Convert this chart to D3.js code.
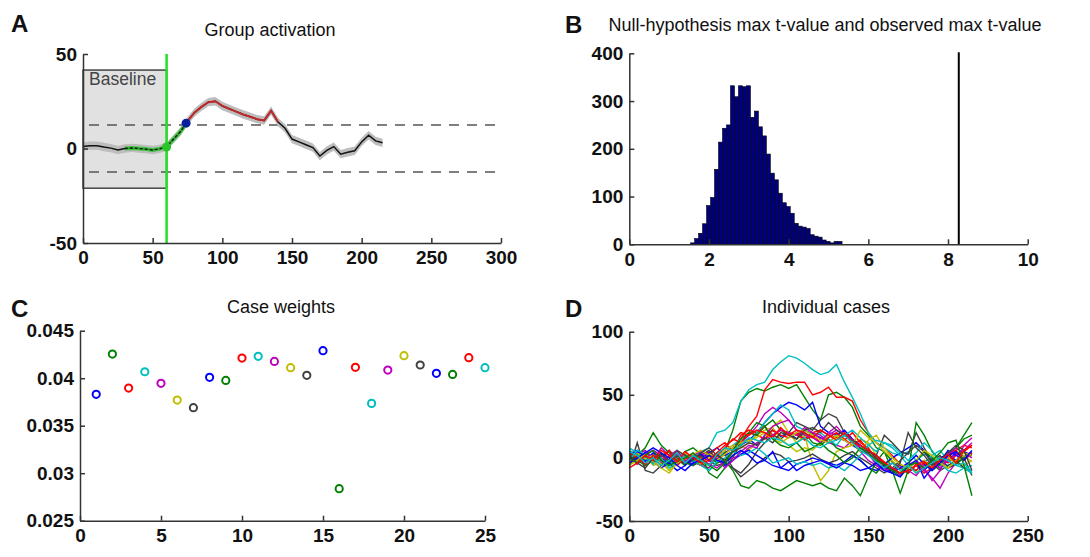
<!DOCTYPE html>
<html>
<head>
<meta charset="utf-8">
<script src="https://cdn.jsdelivr.net/npm/d3@7"></script>
<style>
  body { margin: 0; background: #fff; }
  svg { font-family: "Liberation Sans", Arial, sans-serif; }
  .tick text { font-size: 19px; font-weight: bold; fill: #111; }
  .domain, .tick line { stroke: #333; stroke-width: 1.5; }
  .title { font-size: 18px; fill: #111; text-anchor: middle; }
  .letter { font-size: 24px; font-weight: bold; fill: #111; }
</style>
</head>
<body>
<svg width="1090" height="557"></svg>
<script>
// ---- data ----
let timePts = [0,5,10,15,20,25,30,35,40,45,50,55,60,65,70,75,80,85,90,95,100,105,110,115,120,125,130,135,140,145,150,155,160,165,170,175,180,185,190,195,200,205,210,215]

// A: group activation
let groupVals = [1,1.5,1.5,0.8,0.2,-0.8,0,0.3,0,-0.3,-0.8,-0.2,1,5,9,14.5,19,22,24.5,25,22.5,21,19.5,18,16.8,15.5,14.8,20,14,10.7,5,3.5,2,0.5,-4,-1,1,-3,-2,-1.2,3.5,7,4,3]
let groupSpread = 2.2
let baselineEnd = 60
let baselineBox = [-21, 41.5]
let threshold = 12.4
let greenSpan = [30, 73]
let redSpan = [75, 140]
let dotTimes = [60, 74]
let dotVals = [0.8, 13.4]

// B: null distribution histogram
let binLefts = [1.54,1.64,1.74,1.84,1.94,2.04,2.14,2.24,2.34,2.44,2.54,2.64,2.74,2.84,2.94,3.04,3.14,3.24,3.34,3.44,3.54,3.64,3.74,3.84,3.94,4.04,4.14,4.24,4.34,4.44,4.54,4.64,4.74,4.84,4.94,5.04,5.14,5.24]
let binCounts = [3,12,23,43,81,98,157,214,243,250,332,309,332,330,332,266,279,246,227,189,149,135,107,87,79,65,44,38,36,33,20,17,15,9,6,3,6,6]
let binWidth = 0.1
let observedMax = 8.27

// C: case weights
let caseIds = [1,2,3,4,5,6,7,8,9,10,11,12,13,14,15,16,17,18,19,20,21,22,23,24,25]
let caseWeights = [0.0383,0.04254,0.03896,0.04068,0.03946,0.0377,0.0369,0.04009,0.03977,0.04212,0.0423,0.04177,0.04111,0.0403,0.0429,0.02837,0.04114,0.03735,0.04086,0.04237,0.04139,0.04051,0.0404,0.04216,0.04111]

// D: individual cases
let case1 = [5,2,-3,0,-6,-4,2,-2,-5,1,3,-2,4,8,12,15,10,18,22,17,20,15,22,19,16,12,18,14,10,6,3,-4,-8,-10,-6,-12,-5,-10,-3,-8,-2,4,1,5]
let case2 = [-3,0,4,-2,3,-5,-1,-6,2,-3,-10,-4,5,22,45,52,55,53,56,58,55,58,48,38,30,50,52,48,40,25,18,8,5,-3,-8,-12,-6,-2,-10,-5,4,8,18,28]
let case3 = [2,-4,-1,3,-2,1,-6,0,-3,2,5,-2,3,8,15,25,33,54,62,60,59,60,60,50,52,56,48,48,45,30,20,12,8,2,-5,-10,-6,-12,-8,-4,0,6,10,8]
let case4 = [6,2,-2,4,-3,-1,3,-4,0,5,8,20,22,28,45,54,58,60,70,76,81,79,75,70,66,68,74,60,48,35,20,12,8,4,2,5,-2,3,0,-4,-6,-3,-8,-10]
let case5 = [-4,3,6,-2,8,2,-5,3,-3,-6,-8,2,-4,5,12,18,25,35,40,36,30,22,15,20,18,12,10,8,14,5,-2,-6,-10,-4,-8,-12,-5,-10,-16,-24,-12,-4,10,16]
let case6 = [0,-3,2,-6,-4,-10,-3,2,-2,-5,0,-4,-1,2,10,6,12,15,25,30,20,12,18,-5,-18,-10,5,8,10,15,12,2,-4,-2,-8,-5,-12,-6,-3,0,2,-4,-6,-2]
let case7 = [-8,12,-10,-12,-6,2,-2,-4,0,3,-2,-6,-4,-8,-12,-5,5,12,18,15,20,28,25,22,30,35,32,20,15,10,5,2,18,12,5,3,20,8,-2,2,-8,-5,0,-14]
let case8 = [3,6,-2,4,0,-5,2,-3,-6,-2,4,8,2,5,10,14,20,28,35,40,44,42,38,44,25,20,18,22,15,10,6,2,-5,0,4,8,12,6,-4,0,3,-2,5,2]
let case9 = [-6,2,8,20,10,4,-2,5,8,3,-12,-16,-8,0,12,20,28,25,30,22,18,15,20,12,10,15,8,5,2,-2,-8,-12,-4,-10,-15,-8,-3,5,0,-6,2,8,15,18]
let case10 = [-2,5,1,-4,3,-2,4,0,-3,-6,2,8,12,5,18,22,20,25,18,22,20,18,15,20,22,18,16,14,20,12,8,-2,-6,-10,-8,-12,-5,-2,-6,0,-4,2,5,10]
let case11 = [8,4,0,-4,-2,-6,2,4,-3,0,-5,-2,6,10,15,12,20,28,35,42,38,25,22,18,20,15,10,18,22,16,10,5,12,8,2,-6,-10,-4,2,6,-2,-6,-8,-6]
let case12 = [2,-2,5,0,-4,2,6,-3,3,-2,-5,-8,-3,0,2,8,12,15,18,22,20,18,24,20,15,18,22,18,12,8,3,-4,-8,-12,-5,-10,-14,-6,-3,-8,-2,3,6,12]
let case13 = [-3,4,-1,2,-5,-8,-2,4,0,-4,3,1,6,10,8,12,18,22,24,15,10,5,8,6,12,18,15,20,12,5,14,18,8,0,-5,-10,-6,-2,-8,-3,0,-4,2,-3]
let case14 = [4,-2,2,-4,1,6,0,-5,-2,2,6,-1,3,-8,-15,-10,-5,0,4,2,-3,-2,0,3,-1,-4,-2,2,5,0,-4,-8,-12,-8,-2,4,10,5,-4,-10,-6,-2,-8,-12]
let case15 = [0,5,2,-3,-8,-4,-10,-6,0,3,-2,4,-6,-2,3,6,2,-2,5,-8,-10,-5,-3,0,-2,-4,-6,-3,2,-2,-8,-10,-6,-12,-8,-4,2,-5,-10,-3,6,2,-1,3]
let case16 = [3,-2,-6,-2,4,-3,2,-4,-6,-2,2,-4,-2,-10,-22,-24,-18,-20,-24,-26,-22,-18,-20,-22,-20,-24,-26,-16,-22,-30,-15,-3,5,-10,-28,-10,28,18,5,-2,3,-4,0,2]
let case17 = [4,0,-5,2,-2,6,-4,-1,3,0,-6,2,8,15,12,20,18,15,22,18,16,20,14,18,12,16,20,15,10,14,6,0,-4,-8,-12,-6,-10,-4,-8,-2,3,6,-2,4]
let case18 = [-2,6,3,-5,0,-8,-4,2,-2,-6,-10,-3,0,5,2,4,8,3,-4,-2,0,-5,-3,-6,-4,-8,-6,-10,-4,2,10,14,12,10,4,-2,4,12,6,-4,-10,-12,-8,-12]
let case19 = [0,-5,3,6,2,-2,3,-4,2,5,-3,0,-8,-2,5,10,8,18,25,28,30,22,18,16,12,20,25,18,15,8,4,-6,-10,-8,-14,-6,-2,-8,-18,-10,2,8,4,0]
let case20 = [-6,-2,3,-3,-8,-12,-4,0,3,6,2,-2,3,8,12,14,16,20,15,12,16,20,22,18,14,12,18,14,10,22,16,12,5,0,-5,-8,-2,6,2,-4,-8,-2,4,2]
let case21 = [2,-4,-8,0,3,-2,6,2,-2,4,8,2,-2,5,8,12,10,16,12,20,18,15,22,24,20,28,22,18,14,10,6,0,-6,-10,-4,20,8,2,-6,-2,4,10,6,-10]
let case22 = [-4,0,4,8,4,0,-6,-10,-4,-2,2,-2,-4,2,6,2,-4,-2,-6,-8,-3,-10,-6,-4,-2,-5,-8,-4,-6,-10,-8,-4,-10,-12,-15,-6,-2,-16,-8,-4,2,5,-2,6]
let case23 = [0,-4,2,6,-2,-6,-3,0,4,-2,-6,-10,-4,6,15,20,18,25,15,10,8,12,5,8,12,6,2,-4,0,8,4,-2,-5,-10,-12,-6,-4,-8,-2,4,12,14,-6,-30]
let case24 = [-8,-4,2,-2,6,2,-3,5,0,-4,-2,4,10,14,20,18,22,20,16,24,18,22,20,16,22,18,14,20,12,10,6,2,-3,-8,-12,-10,-6,-3,-8,-2,3,-4,6,10]
let case25 = [5,2,-4,0,-6,-2,4,-4,2,-2,-6,3,8,6,10,16,14,12,16,14,10,12,16,10,8,12,14,18,12,6,2,-3,-8,-4,-10,-6,-12,-8,-4,0,-2,-6,-4,-12]

let allCases = [case1,case2,case3,case4,case5,case6,case7,case8,case9,case10,case11,case12,case13,
  case14,case15,case16,case17,case18,case19,case20,case21,case22,case23,case24,case25]

// matlab's old default line colour order
let colorOrder = ["#0000ff", "#008000", "#ff0000", "#00bfbf", "#bf00bf", "#bfbf00", "#404040"]

let svg = d3.select("svg")

// draws left + bottom axes, matlab style ticks pointing inward
function makeAxes(x, y, xTicks, yTicks, yFmt) {
  let g = svg.append("g")
  g.append("g")
    .attr("transform", "translate(0," + y.range()[0] + ")")
    .call(d3.axisBottom(x).tickValues(xTicks).tickSizeInner(-5).tickSizeOuter(0).tickPadding(8)
      .tickFormat((d) => { return String(d) }))
  g.append("g")
    .attr("transform", "translate(" + x.range()[0] + ",0)")
    .call(d3.axisLeft(y).tickValues(yTicks).tickSizeInner(-5).tickSizeOuter(0).tickPadding(6)
      .tickFormat(yFmt || ((d) => { return String(d) })))
  return g
}

// ---------- Panel A ----------
let xA = d3.scaleLinear().domain([0, 300]).range([83, 501])
let yA = d3.scaleLinear().domain([-50, 50]).range([243, 54])
let groupData = timePts.map((t, i) => { return {t: t, v: groupVals[i]} })

svg.append("rect")
  .attr("x", xA(0))
  .attr("y", yA(baselineBox[1]))
  .attr("width", xA(baselineEnd) - xA(0))
  .attr("height", yA(baselineBox[0]) - yA(baselineBox[1]))
  .attr("fill", "#e1e1e1")
  .attr("stroke", "#444")
  .attr("stroke-width", 1.5)

svg.append("text")
  .attr("x", 89)
  .attr("y", 85)
  .attr("font-size", "17.5px")
  .attr("fill", "#444")
  .text("Baseline")

;[threshold, -threshold].forEach((v) => {
  svg.append("line")
    .attr("x1", xA(0) + 6).attr("x2", xA(300))
    .attr("y1", yA(v)).attr("y2", yA(v))
    .attr("stroke", "#555")
    .attr("stroke-width", 1.5)
    .attr("stroke-dasharray", "10,8")
})

svg.append("path")
  .datum(groupData)
  .attr("fill", "#bdbdbd")
  .attr("d", d3.area()
    .x((d) => { return xA(d.t) })
    .y0((d) => { return yA(d.v - groupSpread) })
    .y1((d) => { return yA(d.v + groupSpread) }))

let lineA = d3.line()
  .x((d) => { return xA(d.t) })
  .y((d) => { return yA(d.v) })

svg.append("path")
  .datum(groupData)
  .attr("fill", "none")
  .attr("stroke", "#111")
  .attr("stroke-width", 1.5)
  .attr("d", lineA)

let greenPart = groupData.filter((d) => { return d.t >= greenSpan[0] && d.t <= greenSpan[1] + 2 })
svg.append("path")
  .datum(greenPart)
  .attr("fill", "none")
  .attr("stroke", "#2cc42c")
  .attr("stroke-width", 4)
  .attr("opacity", 0.85)
  .attr("d", lineA)
svg.append("path")
  .datum(greenPart)
  .attr("fill", "none")
  .attr("stroke", "#111")
  .attr("stroke-width", 1.3)
  .attr("stroke-dasharray", "3,2")
  .attr("d", lineA)

svg.append("path")
  .datum(groupData.filter((d) => { return d.t >= redSpan[0] && d.t <= redSpan[1] }))
  .attr("fill", "none")
  .attr("stroke", "#c0282a")
  .attr("stroke-width", 2)
  .attr("d", lineA)

svg.append("line")
  .attr("x1", xA(baselineEnd)).attr("x2", xA(baselineEnd))
  .attr("y1", yA(50)).attr("y2", yA(-50))
  .attr("stroke", "#22e022")
  .attr("stroke-width", 2.5)

svg.selectAll(".dotA")
  .data(dotTimes)
  .enter()
  .append("circle")
  .attr("cx", (d) => { return xA(d) })
  .attr("cy", (d, i) => { return yA(dotVals[i]) })
  .attr("r", 4.5)
  .attr("fill", (d, i) => { return i == 0 ? "#2cc42c" : "#0a1fa0" })

makeAxes(xA, yA, [0, 50, 100, 150, 200, 250, 300], [-50, 0, 50])

svg.append("text").attr("class", "letter").attr("x", 11).attr("y", 32).text("A")
svg.append("text").attr("class", "title").attr("x", 270).attr("y", 36).text("Group activation")

// ---------- Panel B ----------
let xB = d3.scaleLinear().domain([0, 10]).range([629.3, 1027.7])
let yB = d3.scaleLinear().domain([0, 400]).range([244.3, 53.3])

svg.selectAll(".bar")
  .data(binCounts)
  .enter()
  .append("rect")
  .attr("x", (d, i) => { return xB(binLefts[i]) })
  .attr("y", (d) => { return yB(d) })
  .attr("width", xB(binWidth) - xB(0))
  .attr("height", (d) => { return yB(0) - yB(d) })
  .attr("fill", "#00007f")
  .attr("stroke", "#000")
  .attr("stroke-width", 0.6)

svg.append("line")
  .attr("x1", xB(observedMax)).attr("x2", xB(observedMax))
  .attr("y1", yB(0)).attr("y2", yB(400) - 1)
  .attr("stroke", "#000")
  .attr("stroke-width", 2)

makeAxes(xB, yB, [0, 2, 4, 6, 8, 10], [0, 100, 200, 300, 400])

svg.append("text").attr("class", "letter").attr("x", 565).attr("y", 33).text("B")
svg.append("text").attr("class", "title").attr("x", 825).attr("y", 31)
  .text("Null-hypothesis max t-value and observed max t-value")

// ---------- Panel C ----------
let xC = d3.scaleLinear().domain([0, 25]).range([80, 485])
let yC = d3.scaleLinear().domain([0.025, 0.045]).range([520.7, 330.7])

svg.selectAll(".pt")
  .data(caseWeights)
  .enter()
  .append("circle")
  .attr("cx", (d, i) => { return xC(caseIds[i]) })
  .attr("cy", (d) => { return yC(d) })
  .attr("r", 3.6)
  .attr("fill", "none")
  .attr("stroke", (d, i) => { return colorOrder[i % 7] })
  .attr("stroke-width", 2)

makeAxes(xC, yC, [0, 5, 10, 15, 20, 25], [0.025, 0.03, 0.035, 0.04, 0.045],
  (d) => { return String(+d.toFixed(3)) })

svg.append("text").attr("class", "letter").attr("x", 11).attr("y", 317).text("C")
svg.append("text").attr("class", "title").attr("x", 281).attr("y", 313).text("Case weights")

// ---------- Panel D ----------
let xD = d3.scaleLinear().domain([0, 250]).range([629.3, 1027.7])
let yD = d3.scaleLinear().domain([-50, 100]).range([521, 331.7])

let lineD = d3.line()
  .x((d, i) => { return xD(timePts[i]) })
  .y((d) => { return yD(d) })

svg.selectAll(".trace")
  .data(allCases)
  .enter()
  .append("path")
  .attr("fill", "none")
  .attr("stroke", (d, i) => { return colorOrder[i % 7] })
  .attr("stroke-width", 1.4)
  .attr("d", lineD)

makeAxes(xD, yD, [0, 50, 100, 150, 200, 250], [-50, 0, 50, 100])

svg.append("text").attr("class", "letter").attr("x", 565).attr("y", 317).text("D")
svg.append("text").attr("class", "title").attr("x", 826).attr("y", 313).text("Individual cases")
</script>
</body>
</html>
